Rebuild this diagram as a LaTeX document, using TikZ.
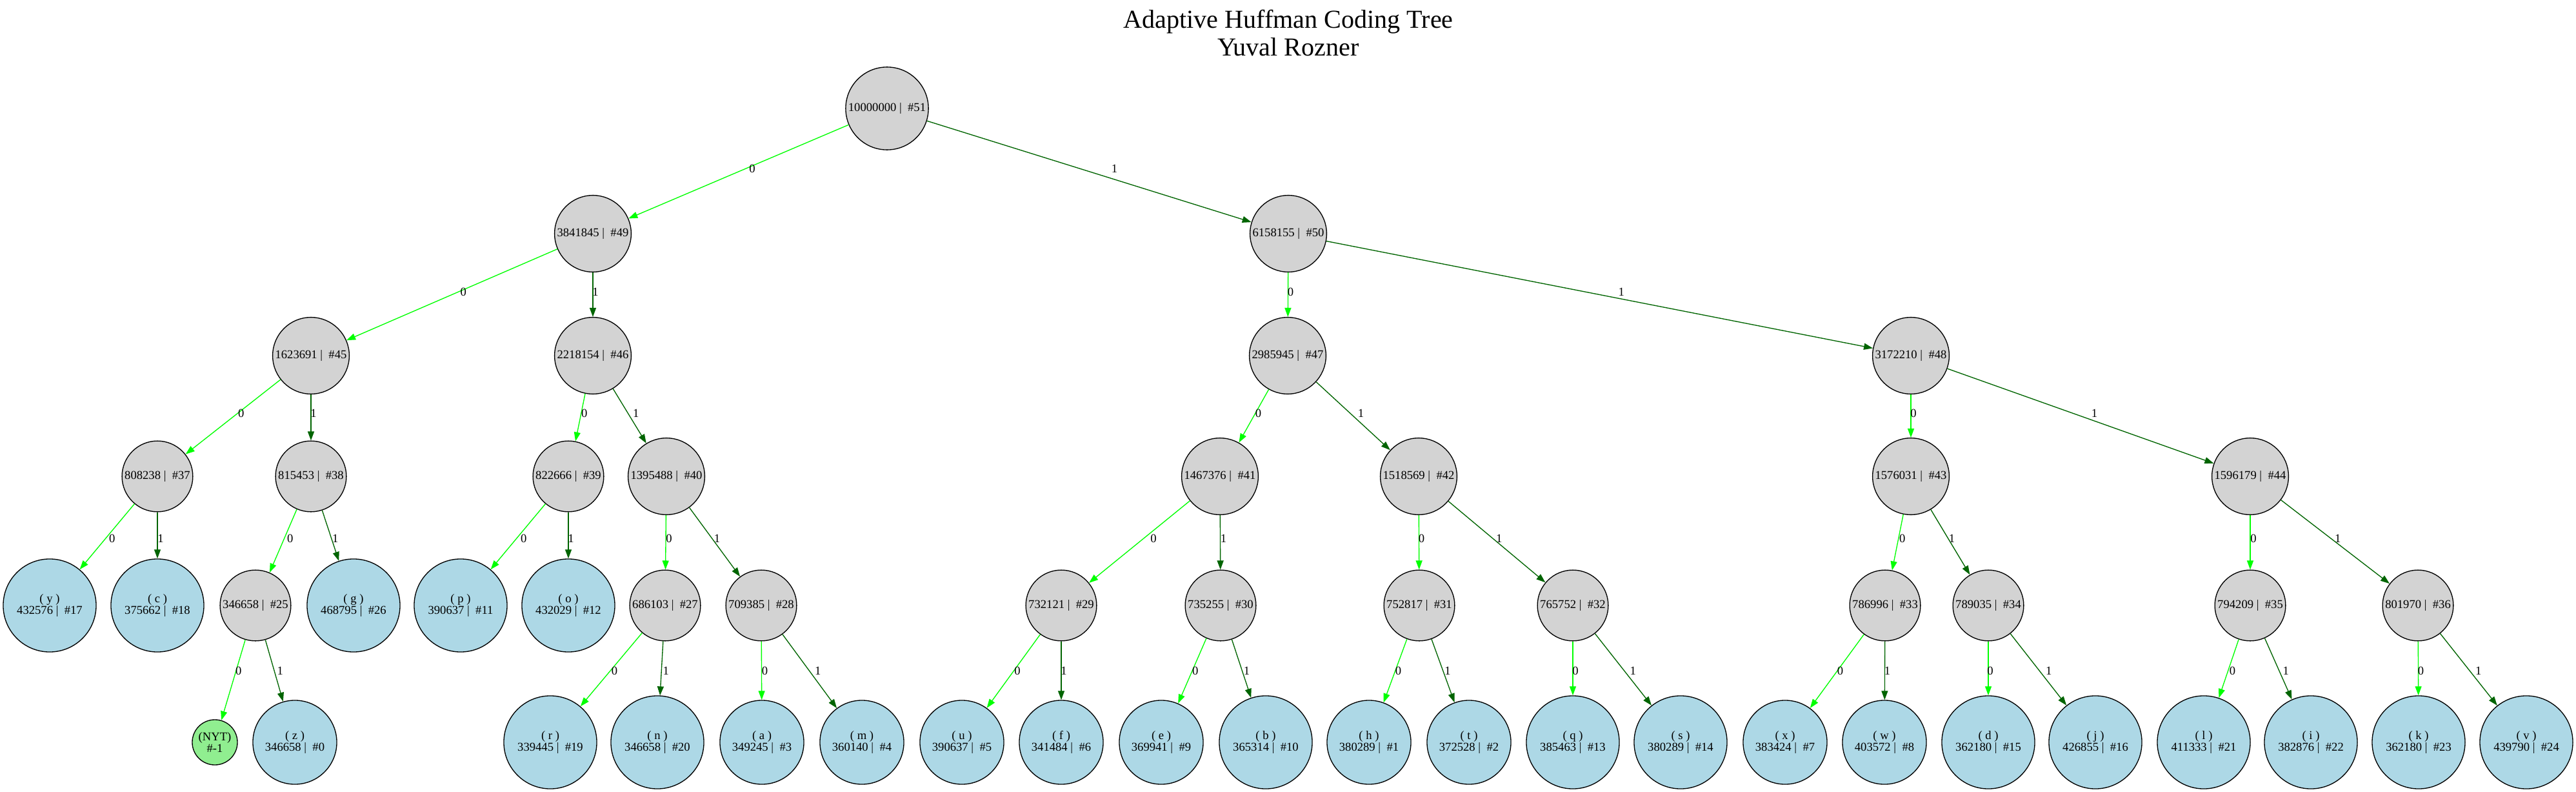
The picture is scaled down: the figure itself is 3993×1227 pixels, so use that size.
\documentclass[tikz,border=0pt]{standalone}
\usepackage{fontspec}
\setmainfont{Liberation Serif}
\usetikzlibrary{arrows.meta,positioning,calc}

\definecolor{nodegray}{HTML}{D3D3D3}
\definecolor{leafblue}{HTML}{ADD8E6}
\definecolor{nytgreen}{HTML}{90EE90}
\definecolor{edge0}{HTML}{00FF00}
\definecolor{edge1}{HTML}{006400}

\newcommand{\nodefont}{\fontsize{5.3pt}{5.3pt}\selectfont}
\newcommand{\sep}{ |\ \ \#}

\begin{document}
\begin{tikzpicture}[
    x=0.01cm, y=-0.01cm,
    inode/.style={circle, draw, line width=0.38pt, fill=nodegray, inner sep=0.03cm, font=\nodefont},
    leaf/.style={circle, draw, line width=0.38pt, fill=leafblue, inner sep=0.03cm, minimum size=1.44cm, align=center, font=\nodefont},
    leafsm/.style={minimum size=1.3cm},
    nyt/.style={circle, draw, line width=0.38pt, fill=nytgreen, inner sep=0.02cm, minimum size=0.7cm, align=center, font=\nodefont},
    bit/.style={draw=edge#1, line width=0.38pt, -{Triangle[length=0.14cm, width=0.1cm]}},
    bitlbl/.style={pos=0.48, inner sep=0pt, font=\nodefont}
]
\useasboundingbox (0,0) rectangle (3993,1227);

\node[anchor=north, inner sep=0pt, align=center, font=\fontsize{11.4pt}{12.2pt}\selectfont] (title) at (1997,15) {Adaptive Huffman Coding Tree\\Yuval Rozner};

\node[inode] (n51) at (1375,168) {10000000\sep51};
\node[inode] (n49) at (919,362) {3841845\sep49};
\node[inode] (n50) at (1997,362) {6158155\sep50};
\node[inode] (n45) at (482,551) {1623691\sep45};
\node[inode] (n46) at (919,551) {2218154\sep46};
\node[inode] (n47) at (1996,551) {2985945\sep47};
\node[inode] (n48) at (2962,551) {3172210\sep48};
\node[inode] (n37) at (244,738) {808238\sep37};
\node[inode] (n38) at (482,738) {815453\sep38};
\node[inode] (n39) at (881,738) {822666\sep39};
\node[inode] (n40) at (1033,738) {1395488\sep40};
\node[inode] (n41) at (1891,738) {1467376\sep41};
\node[inode] (n42) at (2199,738) {1518569\sep42};
\node[inode] (n43) at (2962,738) {1576031\sep43};
\node[inode] (n44) at (3488,738) {1596179\sep44};

\node[leaf] (ly) at (77,938) {( y )\\432576\sep17};
\node[leaf] (lc) at (244,938) {( c )\\375662\sep18};
\node[inode] (n25) at (396,938) {346658\sep25};
\node[leaf] (lg) at (548,938) {( g )\\468795\sep26};
\node[leaf] (lp) at (714,938) {( p )\\390637\sep11};
\node[leaf] (lo) at (881,938) {( o )\\432029\sep12};
\node[inode] (n27) at (1031,938) {686103\sep27};
\node[inode] (n28) at (1180,938) {709385\sep28};
\node[inode] (n29) at (1645,938) {732121\sep29};
\node[inode] (n30) at (1892,938) {735255\sep30};
\node[inode] (n31) at (2200,938) {752817\sep31};
\node[inode] (n32) at (2438,938) {765752\sep32};
\node[inode] (n33) at (2922,938) {786996\sep33};
\node[inode] (n34) at (3082,938) {789035\sep34};
\node[inode] (n35) at (3488,938) {794209\sep35};
\node[inode] (n36) at (3748,938) {801970\sep36};

\node[nyt] (nyt) at (333,1150) {(NYT)\\\#-1};
\node[leaf, leafsm] (lz) at (457,1150) {( z )\\346658\sep0};
\node[leaf] (lr) at (853,1150) {( r )\\339445\sep19};
\node[leaf] (ln) at (1019,1150) {( n )\\346658\sep20};
\node[leaf, leafsm] (la) at (1181,1150) {( a )\\349245\sep3};
\node[leaf, leafsm] (lm) at (1336,1150) {( m )\\360140\sep4};
\node[leaf, leafsm] (lu) at (1491,1150) {( u )\\390637\sep5};
\node[leaf, leafsm] (lf) at (1645,1150) {( f )\\341484\sep6};
\node[leaf, leafsm] (le) at (1800,1150) {( e )\\369941\sep9};
\node[leaf] (lb) at (1962,1150) {( b )\\365314\sep10};
\node[leaf, leafsm] (lh) at (2122,1150) {( h )\\380289\sep1};
\node[leaf, leafsm] (lt) at (2277,1150) {( t )\\372528\sep2};
\node[leaf] (lq) at (2438,1150) {( q )\\385463\sep13};
\node[leaf] (ls) at (2605,1150) {( s )\\380289\sep14};
\node[leaf, leafsm] (lx) at (2767,1150) {( x )\\383424\sep7};
\node[leaf, leafsm] (lw) at (2921,1150) {( w )\\403572\sep8};
\node[leaf] (ld) at (3082,1150) {( d )\\362180\sep15};
\node[leaf] (lj) at (3248,1150) {( j )\\426855\sep16};
\node[leaf] (ll) at (3416,1150) {( l )\\411333\sep21};
\node[leaf] (li) at (3582,1150) {( i )\\382876\sep22};
\node[leaf] (lk) at (3749,1150) {( k )\\362180\sep23};
\node[leaf] (lv) at (3916,1150) {( v )\\439790\sep24};

% parent/child/bit/label shift
\foreach \p/\c/\b/\o in {n51/n49/0/10, n51/n50/1/54, n49/n45/0/9, n49/n46/1/4,
    n50/n47/0/4, n50/n48/1/53, n45/n37/0/6, n45/n38/1/4, n46/n39/0/5, n46/n40/1/12,
    n47/n41/0/5, n47/n42/1/16, n48/n43/0/4, n48/n44/1/32,
    n37/ly/0/10, n37/lc/1/5, n38/n25/0/9, n38/lg/1/6, n39/lp/0/11, n39/lo/1/4,
    n40/n27/0/5, n40/n28/1/8, n41/n29/0/15, n41/n30/1/5, n42/n31/0/4, n42/n32/1/10,
    n43/n33/0/6, n43/n34/1/6, n44/n35/0/5, n44/n36/1/11,
    n25/nyt/0/4, n25/lz/1/9, n27/lr/0/7, n27/ln/1/7, n28/la/0/5, n28/lm/1/13,
    n29/lu/0/6, n29/lf/1/4, n30/le/0/5, n30/lb/1/7, n31/lh/0/5, n31/lt/1/7,
    n32/lq/0/4, n32/ls/1/13, n33/lx/0/5, n33/lw/1/4, n34/ld/0/3, n34/lj/1/14,
    n35/ll/0/7, n35/li/1/10, n36/lk/0/4, n36/lv/1/13} {
    \draw[bit=\b] (\p) -- (\c);
    \path (\p.center) -- (\c.center) node[bitlbl, xshift=\o*0.01cm] {\b};
}

\end{tikzpicture}
\end{document}
